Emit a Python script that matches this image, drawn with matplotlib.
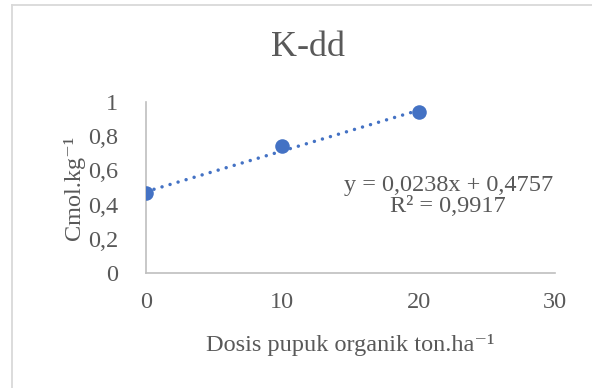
import numpy as np
import matplotlib
matplotlib.use("Agg")
import matplotlib.pyplot as plt
from matplotlib.ticker import FuncFormatter
from matplotlib.lines import Line2D

plt.rcParams['font.family'] = ['Liberation Serif', 'DejaVu Serif']

# data
dosis = [0, 10, 20]
k_dd = [0.465, 0.74, 0.94]
slope = 0.0238
intercept = 0.4757
r2 = 0.9917
x_ticks = [0, 10, 20, 30]
y_ticks = [0, 0.2, 0.4, 0.6, 0.8, 1]

teks = '#595959'
biru = '#4472C4'
ukuran = 17.5

fig = plt.figure(figsize=(5.92, 3.88), dpi=100)
ax = fig.add_axes([0.2466, 0.2964, 0.6909, 0.4407])

# garis tren
xt = np.array([dosis[0], dosis[-1]])
ax.plot(xt, slope * xt + intercept, color=biru, lw=2.5,
        linestyle=(0, (0.01, 2.4)), dash_capstyle='round', zorder=2)
ax.scatter(dosis, k_dd, s=110, color=biru, zorder=3, linewidths=0)

ax.set_xlim(0, 30)
ax.set_ylim(0, 1)
ax.set_xticks(x_ticks)
ax.set_yticks(y_ticks)
koma = FuncFormatter(lambda v, p: ('%g' % v).replace('.', ','))
ax.yaxis.set_major_formatter(koma)
ax.tick_params(length=0, labelsize=ukuran, colors=teks)
ax.tick_params(axis='y', pad=20)
ax.tick_params(axis='x', pad=14)
for s in ['top', 'right']:
    ax.spines[s].set_visible(False)
for s in ['left', 'bottom']:
    ax.spines[s].set_color('#BFBFBF')
    ax.spines[s].set_linewidth(1.2)

fig.text(0.52, 0.878, 'K-dd', fontsize=26, color=teks, ha='center', va='center')
ax.set_xlabel('Dosis pupuk organik ton.ha⁻¹', fontsize=ukuran, color=teks, labelpad=15)
ax.set_ylabel('Cmol.kg⁻¹', fontsize=ukuran, color=teks, labelpad=2)

persamaan = ('y = %sx + %s' % (('%.4f' % slope).replace('.', ','),
                                ('%.4f' % intercept).replace('.', ',')))
r2_teks = 'R² = %s' % ('%.4f' % r2).replace('.', ',')
fig.text(0.757, 0.495, persamaan + '\n' + r2_teks, fontsize=ukuran, color=teks,
         ha='center', va='center', multialignment='center', linespacing=1.0)

# bingkai area grafik
fig.add_artist(Line2D([12 / 592, 12 / 592], [0, 1 - 5 / 388], color='#D9D9D9', lw=1.3))
fig.add_artist(Line2D([12 / 592, 1], [1 - 5 / 388, 1 - 5 / 388], color='#D9D9D9', lw=1.3))

fig.savefig('out.png', dpi=100)
